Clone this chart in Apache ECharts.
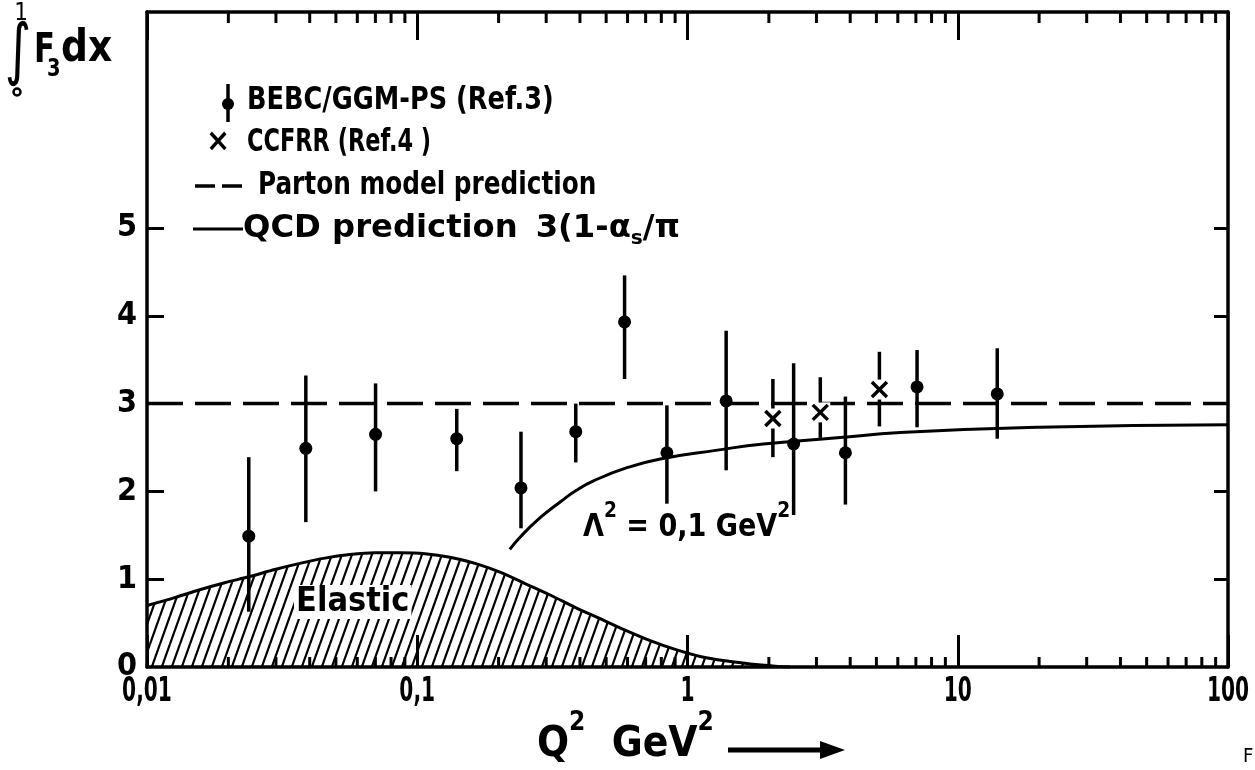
<!DOCTYPE html>
<html><head><meta charset="utf-8">
<script src="https://cdn.jsdelivr.net/npm/echarts@6/dist/echarts.min.js"></script>
<style>html,body{margin:0;padding:0;background:#fff}#c{width:1255px;height:770px}</style>
</head><body><div id="c"></div>
<script>
// ---------- data ----------
const xTickValues = [0.01, 0.1, 1, 10, 100];
const xTickLabels = ['0,01', '0,1', '1', '10', '100'];
const yTickValues = [0, 1, 2, 3, 4, 5];
const yTickLabels = ['0', '1', '2', '3', '4', '5'];
const minorTickValues = [0.02,0.03,0.04,0.05,0.06,0.07,0.08,0.09,
  0.2,0.3,0.4,0.5,0.6,0.7,0.8,0.9, 2,3,4,5,6,7,8,9, 20,30,40,50,60,70,80,90];

const bebcQ2   = [0.0238, 0.0387, 0.0701, 0.140, 0.242, 0.386, 0.585, 0.839, 1.39, 2.47, 3.84, 7.07, 14.0];
const bebcVal  = [1.49, 2.49, 2.65, 2.60, 2.04, 2.68, 3.93, 2.44, 3.03, 2.54, 2.44, 3.19, 3.11];
const bebcLow  = [0.63, 1.65, 2.00, 2.23, 1.58, 2.33, 3.28, 1.86, 2.24, 1.73, 1.85, 2.73, 2.60];
const bebcHigh = [2.39, 3.32, 3.23, 2.94, 2.68, 3.00, 4.46, 2.98, 3.83, 3.46, 3.08, 3.61, 3.63];

const ccfrrQ2   = [2.07, 3.10, 5.13];
const ccfrrVal  = [2.83, 2.90, 3.16];
const ccfrrLow  = [2.39, 2.61, 2.74];
const ccfrrHigh = [3.28, 3.30, 3.59];

const partonQ2  = [0.01, 100];
const partonVal = [3, 3];

const qcdQ2  = [0.22, 0.242, 0.285, 0.338, 0.387, 0.449, 0.597, 0.793, 1.29, 1.91, 3.58, 6.13, 20, 100];
const qcdVal = [1.34, 1.49, 1.70, 1.88, 2.01, 2.12, 2.27, 2.37, 2.47, 2.54, 2.61, 2.67, 2.73, 2.76];

const elasticQ2  = [0.01, 0.01266, 0.01567, 0.0194, 0.02401, 0.02972, 0.03679, 0.04552, 0.05634, 0.06972,
  0.08629, 0.1068, 0.1322, 0.1636, 0.2025, 0.2506, 0.3101, 0.3838, 0.475, 0.5879, 0.7276, 0.9004,
  1.114, 1.379, 1.707, 2.112, 2.401];
const elasticVal = [0.70, 0.79, 0.88, 0.96, 1.03, 1.11, 1.18, 1.24, 1.28, 1.30,
  1.30, 1.29, 1.25, 1.18, 1.08, 0.95, 0.82, 0.68, 0.55, 0.42, 0.30, 0.20,
  0.12, 0.07, 0.035, 0.01, 0];

const Y_MIN = 0, Y_MAX = 7.46;
// ----------------------------------------------------

const FONT = "'Liberation Sans Narrow', 'DejaVu Sans Condensed', 'Liberation Sans', sans-serif";
const INK = '#000';

function hatch() {
  const c = document.createElement('canvas');
  c.width = 10; c.height = 28;
  const g = c.getContext('2d');
  g.strokeStyle = INK; g.lineWidth = 2.2;
  g.beginPath();
  [-10, 0, 10].forEach(dx => { g.moveTo(dx, 28); g.lineTo(dx + 10, 0); });
  g.stroke();
  return c;
}

const zip = (a, b) => a.map((v, i) => [v, b[i]]);

const chart = echarts.init(document.getElementById('c'), null, {renderer: 'canvas'});

function txt(text, x, y, size, extra, sx) {
  return {
    type: 'text', x: x, y: y, z: 100, scaleX: sx || 1,
    style: Object.assign({text: text, fontFamily: FONT, fontSize: size, fontWeight: 'bold',
      fill: INK, textVerticalAlign: 'middle', textAlign: 'left'}, extra || {})
  };
}

const option = {
  animation: false,
  backgroundColor: '#fff',
  grid: {left: 147, right: 27, top: 12, bottom: 103, containLabel: false},
  xAxis: [
    {type: 'log', logBase: 10, min: 0.01, max: 100, position: 'bottom',
     axisLine: {show: true, onZero: false, lineStyle: {color: INK, width: 3.5}},
     axisTick: {show: true, inside: true, length: 32, lineStyle: {color: INK, width: 3}},
     axisLabel: {show: false},
     splitLine: {show: false}, minorTick: {show: false}},
    {type: 'log', logBase: 10, min: 0.01, max: 100, position: 'top',
     axisLine: {show: true, onZero: false, lineStyle: {color: INK, width: 3.5}},
     axisTick: {show: true, inside: true, length: 28, lineStyle: {color: INK, width: 3}},
     axisLabel: {show: false}, splitLine: {show: false}}
  ],
  yAxis: [
    {type: 'value', min: Y_MIN, max: Y_MAX, interval: 1, position: 'left',
     axisLine: {show: true, onZero: false, lineStyle: {color: INK, width: 3.5}},
     axisTick: {show: true, inside: true, length: 17, customValues: [1, 2, 3, 4, 5], lineStyle: {color: INK, width: 3}},
     axisLabel: {show: true, margin: 10, customValues: yTickValues, color: INK, fontFamily: FONT, fontSize: 32, fontWeight: 'bold',
       formatter: v => { const i = yTickValues.indexOf(Math.round(v)); return (i >= 0 && Math.abs(v - Math.round(v)) < 1e-6) ? yTickLabels[i] : ''; }},
     splitLine: {show: false}},
    {type: 'value', min: Y_MIN, max: Y_MAX, interval: 1, position: 'right',
     axisLine: {show: true, onZero: false, lineStyle: {color: INK, width: 3.5}},
     axisTick: {show: true, inside: true, length: 14, customValues: [1, 2, 3, 4, 5], lineStyle: {color: INK, width: 3}},
     axisLabel: {show: false}, splitLine: {show: false}}
  ],
  series: [
    {name: 'Elastic', type: 'line', data: zip(elasticQ2, elasticVal), smooth: 0.3, symbol: 'none',
     lineStyle: {color: INK, width: 3}, areaStyle: {color: {image: hatch(), repeat: 'repeat'}, opacity: 1}, z: 2},
    {name: 'Parton model prediction', type: 'line', data: zip(partonQ2, partonVal), symbol: 'none',
     lineStyle: {color: INK, width: 3.5, type: [36, 12]}, z: 3},
    {name: 'QCD prediction', type: 'line', data: zip(qcdQ2, qcdVal), smooth: 0.5, symbol: 'none',
     lineStyle: {color: INK, width: 3}, z: 3},
    {name: 'BEBC/GGM-PS (Ref.3)', type: 'custom', z: 5,
     data: bebcQ2.map((q, i) => [q, bebcVal[i], bebcLow[i], bebcHigh[i]]),
     encode: {x: 0, y: 1},
     renderItem: (params, api) => {
       const x = api.value(0);
       const pv = api.coord([x, api.value(1)]), pl = api.coord([x, api.value(2)]), ph = api.coord([x, api.value(3)]);
       return {type: 'group', children: [
         {type: 'line', shape: {x1: pl[0], y1: pl[1], x2: ph[0], y2: ph[1]}, style: {stroke: INK, lineWidth: 3.5}},
         {type: 'circle', shape: {cx: pv[0], cy: pv[1], r: 6.5}, style: {fill: INK}}
       ]};
     }},
    {name: 'CCFRR (Ref.4)', type: 'custom', z: 5,
     data: ccfrrQ2.map((q, i) => [q, ccfrrVal[i], ccfrrLow[i], ccfrrHigh[i]]),
     encode: {x: 0, y: 1},
     renderItem: (params, api) => {
       const x = api.value(0);
       const pv = api.coord([x, api.value(1)]), pl = api.coord([x, api.value(2)]), ph = api.coord([x, api.value(3)]);
       const s = 7.5, g = 10;
       return {type: 'group', children: [
         {type: 'rect', shape: {x: pv[0] - 10, y: pv[1] - 10, width: 20, height: 20}, style: {fill: '#fff'}},
         {type: 'line', shape: {x1: ph[0], y1: ph[1], x2: ph[0], y2: pv[1] - g}, style: {stroke: INK, lineWidth: 3.5}},
         {type: 'line', shape: {x1: pl[0], y1: pv[1] + g, x2: pl[0], y2: pl[1]}, style: {stroke: INK, lineWidth: 3.5}},
         {type: 'line', shape: {x1: pv[0] - s, y1: pv[1] - s, x2: pv[0] + s, y2: pv[1] + s}, style: {stroke: INK, lineWidth: 3.5}},
         {type: 'line', shape: {x1: pv[0] - s, y1: pv[1] + s, x2: pv[0] + s, y2: pv[1] - s}, style: {stroke: INK, lineWidth: 3.5}}
       ]};
     }},
    {name: 'minor ticks', type: 'custom', z: 4, silent: true, clip: false,
     data: minorTickValues.map(v => [v, Y_MIN]),
     encode: {x: 0, y: 1},
     renderItem: (params, api) => {
       const v = api.value(0);
       const pb = api.coord([v, Y_MIN]), pt = api.coord([v, Y_MAX]);
       return {type: 'group', children: [
         {type: 'line', shape: {x1: pb[0], y1: pb[1], x2: pb[0], y2: pb[1] - 10}, style: {stroke: INK, lineWidth: 3}},
         {type: 'line', shape: {x1: pt[0], y1: pt[1], x2: pt[0], y2: pt[1] + 11}, style: {stroke: INK, lineWidth: 3}}
       ]};
     }}
  ],
  graphic: [
    // y-axis title  ∫0^1 F3 dx
    txt('1', 21, 14, 24, {fontWeight: 'normal', textAlign: 'center'}),
    txt('∫', 18, 54, 68, {fontWeight: 'normal', textAlign: 'center', fontFamily: "'DejaVu Sans', sans-serif"}, 0.75),
    {type: 'circle', z: 100, shape: {cx: 17, cy: 92, r: 3.5}, style: {fill: 'none', stroke: INK, lineWidth: 2.5}},
    txt('F', 34, 52, 40, null, 0.85),
    txt('3', 47, 70, 24, null, 0.9),
    txt('dx', 61, 50, 44, null, 0.95),
    // legend
    {type: 'line', z: 100, shape: {x1: 228, y1: 84, x2: 228, y2: 122}, style: {stroke: INK, lineWidth: 3.5}},
    {type: 'circle', z: 100, shape: {cx: 228, cy: 104, r: 6}, style: {fill: INK}},
    txt('BEBC/GGM-PS (Ref.3)', 247, 101, 32, null, 0.89),
    txt('×', 218, 143, 32, {textAlign: 'center'}),
    txt('CCFRR (Ref.4 )', 247, 143, 32, null, 0.78),
    {type: 'line', z: 100, shape: {x1: 195, y1: 186, x2: 243, y2: 186}, style: {stroke: INK, lineWidth: 3.5, lineDash: [20, 7]}},
    txt('Parton model prediction', 258, 186, 32, null, 0.86),
    {type: 'line', z: 100, shape: {x1: 193, y1: 229, x2: 243, y2: 229}, style: {stroke: INK, lineWidth: 3}},
    {type: 'text', x: 243, y: 229, z: 100, scaleX: 1.12, style: {
      text: '{n|QCD prediction}{g|}{n|3(1-α}{s|s}{n|/π}', textVerticalAlign: 'middle', fill: INK,
      rich: {n: {fontFamily: FONT, fontSize: 32, fontWeight: 'bold', lineHeight: 40, fill: INK},
             g: {width: 16},
             s: {fontFamily: FONT, fontSize: 20, fontWeight: 'bold', verticalAlign: 'bottom', fill: INK}}}},
    // Lambda label
    {type: 'text', x: 583, y: 522, z: 100, scaleX: 0.94, style: {
      text: '{n|Λ}{p|2}{n| = 0,1 GeV}{p|2}', textVerticalAlign: 'middle', fill: INK,
      rich: {n: {fontFamily: FONT, fontSize: 32, fontWeight: 'bold', lineHeight: 44, verticalAlign: 'bottom', fill: INK},
             p: {fontFamily: FONT, fontSize: 22, fontWeight: 'bold', verticalAlign: 'top', fill: INK}}}},
    // Elastic label
    txt('Elastic', 294, 602, 34, {backgroundColor: '#fff', padding: [0, 2, 0, 2]}),
    // x-axis title
    {type: 'text', x: 537, y: 738, z: 100, style: {
      text: '{n|Q}{p|2}{n|  GeV}{p|2}', textVerticalAlign: 'middle', fill: INK,
      rich: {n: {fontFamily: FONT, fontSize: 42, fontWeight: 'bold', lineHeight: 56, verticalAlign: 'bottom', fill: INK},
             p: {fontFamily: FONT, fontSize: 26, fontWeight: 'bold', verticalAlign: 'top', fill: INK}}}},
    {type: 'line', z: 100, shape: {x1: 728, y1: 750, x2: 826, y2: 750}, style: {stroke: INK, lineWidth: 5}},
    {type: 'polygon', z: 100, shape: {points: [[820, 741], [845, 750], [820, 759]]}, style: {fill: INK}},
    txt('F', 1243, 757, 20, {fontWeight: 'normal'})
  ]
};
chart.setOption(option);

// x tick labels, placed through the log axis' own scale (narrow condensed digits)
const yBase = chart.convertToPixel({yAxisIndex: 0}, Y_MIN);
chart.setOption({graphic: option.graphic.concat(xTickValues.map((v, i) => ({
  type: 'text', z: 100, x: chart.convertToPixel({xAxisIndex: 0}, v), y: yBase + 8, scaleX: 0.66,
  style: {text: xTickLabels[i], fontFamily: FONT, fontSize: 34, fontWeight: 'bold', fill: INK,
          textAlign: 'center', textVerticalAlign: 'top'}
})))}, {replaceMerge: ['graphic']});
</script>
</body></html>
